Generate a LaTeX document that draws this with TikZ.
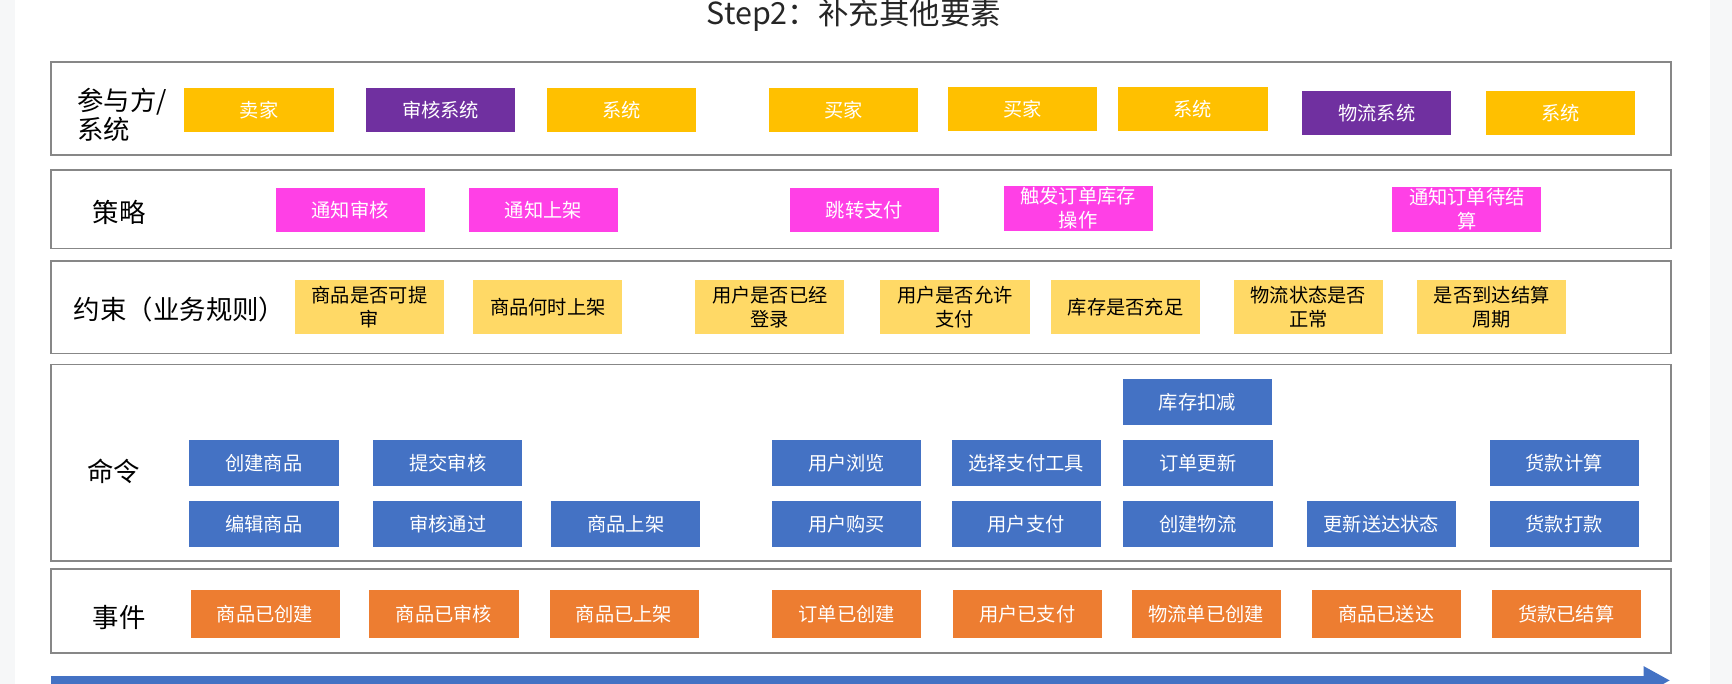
\documentclass[tikz,border=0pt]{standalone}
\usepackage{fontspec}
\setmainfont{Noto Sans CJK SC}
\usetikzlibrary{arrows.meta}
\definecolor{actoryellow}{RGB}{255,192,0}
\definecolor{syspurple}{RGB}{112,48,160}
\definecolor{policypink}{RGB}{255,64,230}
\definecolor{ruleyellow}{RGB}{255,217,102}
\definecolor{cmdblue}{RGB}{68,114,196}
\definecolor{eventorange}{RGB}{237,125,49}
\definecolor{lanegray}{RGB}{135,135,135}
\definecolor{slideedge}{RGB}{246,247,248}

\begin{document}
\begin{tikzpicture}[
    x=0.025cm, y=-0.025cm,
    cell/.style={
      rectangle, minimum width=3.375cm, inner sep=1pt, align=center,
      font=\fontsize{12.4}{15.5}\selectfont, text=white
    },
    actor/.style={cell, fill=actoryellow, minimum height=1cm},
    sysbox/.style={cell, fill=syspurple, minimum height=1cm},
    policy/.style={cell, fill=policypink, minimum height=1cm},
    rulebox/.style={cell, fill=ruleyellow, minimum height=1.22cm, text=black},
    command/.style={cell, fill=cmdblue, minimum height=1.05cm},
    event/.style={cell, fill=eventorange, minimum height=1.1cm},
    lane/.style={draw=lanegray, line width=1.1pt},
    lanelabel/.style={anchor=west, align=left, font=\fontsize{17}{19.2}\selectfont},
    title/.style={anchor=base, font=\fontsize{19.6}{22}\selectfont, black!85},
    timeline/.style={-{Triangle[length=0.6cm, width=0.6cm]}, line width=0.2cm, cmdblue},
]
    % Page
    \useasboundingbox (0,0) rectangle (1568,619);
    \clip (0,0) rectangle (1568,619);
    \fill[slideedge] (0,0) rectangle (13.6,619);
    \fill[slideedge] (1548,0) rectangle (1568,619);

    % Title
    \node[title] (title) at (773,22.6) {Step2：补充其他要素};

    % Swimlanes
    \draw[lane] (46,56) rectangle (1513,140);
    \draw[lane] (46,154) rectangle (1513,225);
    \draw[lane] (46,236) rectangle (1513,320);
    \draw[lane] (46,330) rectangle (1513,508);
    \draw[lane] (46,515) rectangle (1513,591);

    % Lane labels
    \node[lanelabel] (lactor) at (65,104) {参与方/\\系统};
    \node[lanelabel] (lpolicy) at (79,192) {策略};
    \node[lanelabel] (lrule) at (62,280) {约束（业务规则）};
    \node[lanelabel] (lcmd) at (74,427) {命令};
    \node[lanelabel] (levent) at (79,559) {事件};

    % Actors / systems
    \node[actor] (seller) at (234.5,99.5) {卖家};
    \node[sysbox] (auditsys) at (399,99.5) {审核系统};
    \node[actor] (sysa) at (562.5,99.5) {系统};
    \node[actor] (buyera) at (764,99.5) {买家};
    \node[actor] (buyerb) at (925.5,99) {买家};
    \node[actor] (sysb) at (1080,99) {系统};
    \node[sysbox] (logisys) at (1246.5,102.5) {物流系统};
    \node[actor] (sysc) at (1413,102) {系统};

    % Policies
    \node[policy] (pnotifyaudit) at (317,190) {通知审核};
    \node[policy] (pnotifylist) at (492,190) {通知上架};
    \node[policy] (pjumppay) at (782.5,190) {跳转支付};
    \node[policy] (pstock) at (976,188.5) {触发订单库存\\操作};
    \node[policy] (psettle) at (1328,189.5) {通知订单待结\\算};

    % Constraints (business rules)
    \node[rulebox] (rsubmit) at (334.5,278) {商品是否可提\\审};
    \node[rulebox] (rlisttime) at (496,278) {商品何时上架};
    \node[rulebox] (rlogin) at (697,278) {用户是否已经\\登录};
    \node[rulebox] (rpay) at (864.5,278) {用户是否允许\\支付};
    \node[rulebox] (rstock) at (1019,278) {库存是否充足};
    \node[rulebox] (rlogi) at (1184.5,278) {物流状态是否\\正常};
    \node[rulebox] (rcycle) at (1350.5,278) {是否到达结算\\周期};

    % Commands
    \node[command] (cstockdown) at (1084,364) {库存扣减};
    \node[command] (ccreate) at (239,419) {创建商品};
    \node[command] (csubmit) at (405.5,419) {提交审核};
    \node[command] (cbrowse) at (766.5,419) {用户浏览};
    \node[command] (cpaytool) at (929,419) {选择支付工具};
    \node[command] (corder) at (1084.5,419) {订单更新};
    \node[command] (ccalc) at (1416,419) {货款计算};
    \node[command] (cedit) at (239,474.5) {编辑商品};
    \node[command] (cpass) at (405.5,474.5) {审核通过};
    \node[command] (clist) at (566.5,474.5) {商品上架};
    \node[command] (cbuy) at (766.5,474.5) {用户购买};
    \node[command] (cpay) at (929,474.5) {用户支付};
    \node[command] (clogi) at (1084.5,474.5) {创建物流};
    \node[command] (cdeliver) at (1250.5,474.5) {更新送达状态};
    \node[command] (cremit) at (1416,474.5) {货款打款};

    % Events
    \node[event] (ecreated) at (240,556) {商品已创建};
    \node[event] (eaudited) at (402,556) {商品已审核};
    \node[event] (elisted) at (565,556) {商品已上架};
    \node[event] (eorder) at (766.5,556) {订单已创建};
    \node[event] (epaid) at (930,556) {用户已支付};
    \node[event] (elogi) at (1092,556) {物流单已创建};
    \node[event] (edelivered) at (1255,556) {商品已送达};
    \node[event] (esettled) at (1418,556) {货款已结算};

    % Time axis
    \coordinate (tstart) at (46,616);
    \coordinate (tend) at (1512,616);
    \draw[timeline] (tstart) -- (tend);
\end{tikzpicture}
\end{document}
